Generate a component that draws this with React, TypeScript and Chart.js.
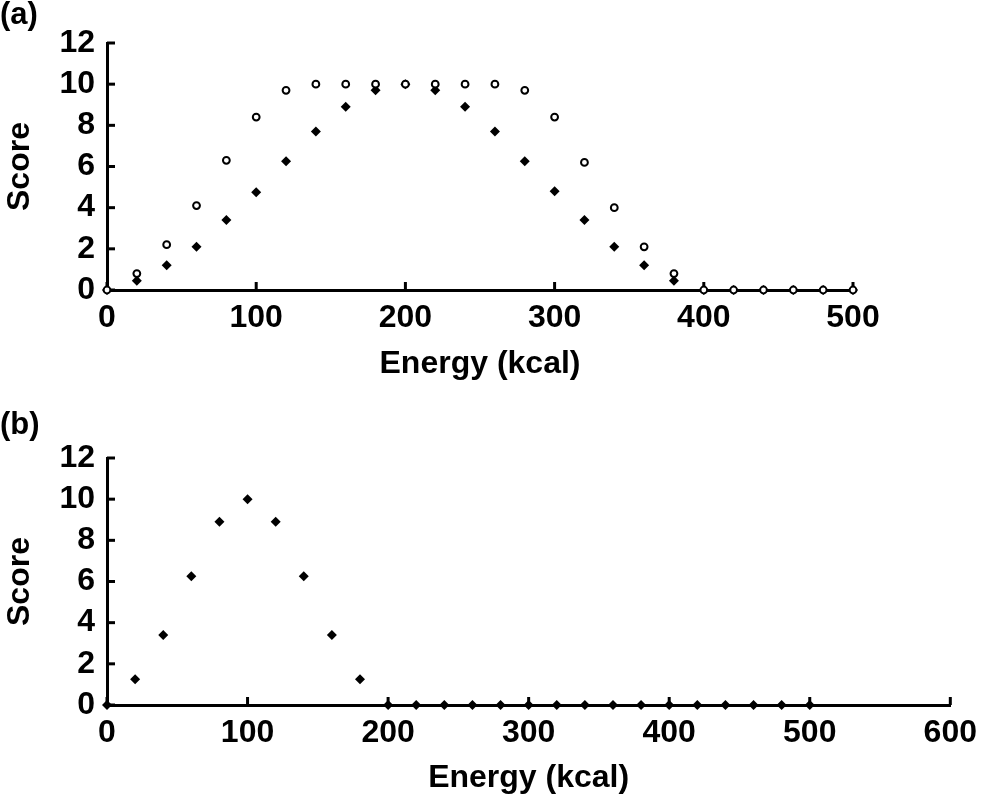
import React, { useEffect, useRef } from "react";
import { Chart, registerables } from "chart.js";

Chart.register(...registerables);

// ---- Data ----
const energyA = [0, 20, 40, 60, 80, 100, 120, 140, 160, 180, 200, 220, 240, 260, 280, 300, 320, 340, 360, 380, 400, 420, 440, 460, 480, 500];
const scoreOpenA = [0, 0.8, 2.2, 4.1, 6.3, 8.4, 9.7, 10, 10, 10, 10, 10, 10, 10, 9.7, 8.4, 6.2, 4.0, 2.1, 0.8, 0, 0, 0, 0, 0, 0];
const scoreFilledA = [0, 0.45, 1.2, 2.1, 3.4, 4.75, 6.25, 7.7, 8.9, 9.7, 10, 9.7, 8.9, 7.7, 6.25, 4.8, 3.4, 2.1, 1.2, 0.45, 0, 0, 0, 0, 0, 0];

const energyB = [0, 20, 40, 60, 80, 100, 120, 140, 160, 180, 200, 220, 240, 260, 280, 300, 320, 340, 360, 380, 400, 420, 440, 460, 480, 500];
const scoreB = [0, 1.25, 3.4, 6.25, 8.9, 10, 8.9, 6.25, 3.4, 1.25, 0, 0, 0, 0, 0, 0, 0, 0, 0, 0, 0, 0, 0, 0, 0, 0];

const yTicksMax = 12;
const yStep = 2;
const xMaxA = 500;
const xMaxB = 600;
const xStep = 100;

const FONT = "'Liberation Sans', Arial, Helvetica, sans-serif";
const FS = 32;

const innerTicks = {
  id: "innerTicks",
  beforeDatasetsDraw(chart: any) {
    const { ctx, chartArea, scales } = chart;
    const x = scales.x;
    const y = scales.y;
    ctx.save();
    ctx.strokeStyle = "#000";
    ctx.lineWidth = 3;
    ctx.lineCap = "butt";
    y.ticks.forEach((t: any) => {
      const py = y.getPixelForValue(t.value);
      ctx.beginPath();
      ctx.moveTo(chartArea.left, py);
      ctx.lineTo(chartArea.left + 8, py);
      ctx.stroke();
    });
    x.ticks.forEach((t: any) => {
      const px = x.getPixelForValue(t.value);
      ctx.beginPath();
      ctx.moveTo(px, chartArea.bottom);
      ctx.lineTo(px, chartArea.bottom - 8);
      ctx.stroke();
    });
    ctx.restore();
  },
};

type Series = { x: number[]; y: number[]; style: "open" | "filled" };

function Panel(props: {
  series: Series[];
  xMax: number;
  top: number;
  height: number;
  padTop: number;
  padRight: number;
  xScaleHeight: number;
  xTitlePad: number;
}) {
  const ref = useRef<HTMLCanvasElement | null>(null);
  useEffect(() => {
    if (!ref.current) return;
    const datasets = props.series.map((s) => ({
      data: s.x.map((xv, i) => ({ x: xv, y: s.y[i] })),
      showLine: false,
      clip: false as any,
      pointStyle: s.style === "open" ? "circle" : "rectRot",
      pointRadius: s.style === "open" ? 3.4 : 5,
      pointBorderWidth: s.style === "open" ? 2 : 0,
      pointBackgroundColor: s.style === "open" ? "#fff" : "#000",
      pointBorderColor: "#000",
      pointHoverRadius: 0,
    }));
    const chart = new Chart(ref.current, {
      type: "scatter",
      data: { datasets },
      plugins: [innerTicks],
      options: {
        animation: false,
        responsive: false,
        devicePixelRatio: 1,
        events: [],
        layout: { padding: { left: 0, top: props.padTop, right: props.padRight, bottom: 0 } },
        plugins: { legend: { display: false }, tooltip: { enabled: false } },
        scales: {
          x: {
            type: "linear",
            min: 0,
            max: props.xMax,
            afterFit: (scale: any) => {
              scale.height = props.xScaleHeight;
            },
            ticks: {
              stepSize: xStep,
              autoSkip: false,
              color: "#000",
              padding: 9,
              maxRotation: 0,
              font: { family: FONT, size: FS, weight: "bold" },
            },
            grid: { display: true, drawOnChartArea: false, drawTicks: false },
            border: { display: true, color: "#000", width: 3 },
            title: {
              display: true,
              text: "Energy (kcal)",
              color: "#000",
              padding: { top: 0, bottom: props.xTitlePad },
              font: { family: FONT, size: FS, weight: "bold", lineHeight: 1.2 },
            },
          },
          y: {
            type: "linear",
            min: 0,
            max: yTicksMax,
            afterFit: (scale: any) => {
              scale.width = 107;
            },
            ticks: {
              stepSize: yStep,
              autoSkip: false,
              color: "#000",
              padding: 12,
              font: { family: FONT, size: FS, weight: "bold" },
            },
            grid: { display: true, drawOnChartArea: false, drawTicks: false },
            border: { display: true, color: "#000", width: 3 },
            title: {
              display: true,
              text: "Score",
              color: "#000",
              padding: { top: 1, bottom: 0 },
              font: { family: FONT, size: FS, weight: "bold", lineHeight: 1.2 },
            },
          },
        },
      } as any,
    });
    return () => chart.destroy();
  }, []);
  return (
    <canvas
      ref={ref}
      width={986}
      height={props.height}
      style={{ position: "absolute", left: 0, top: props.top, width: 986, height: props.height }}
    />
  );
}

const labelStyle: React.CSSProperties = {
  position: "absolute",
  left: 0,
  fontFamily: FONT,
  fontWeight: "bold",
  fontSize: 31,
  lineHeight: "31px",
  color: "#000",
};

export default function App() {
  return (
    <div style={{ position: "absolute", left: 0, top: 0, width: 986, height: 800, background: "#fff", overflow: "hidden" }}>
      <Panel
        series={[
          { x: energyA, y: scoreOpenA, style: "open" },
          { x: energyA, y: scoreFilledA, style: "filled" },
        ]}
        xMax={xMaxA}
        top={0}
        height={400}
        padTop={43}
        padRight={133}
        xScaleHeight={110}
        xTitlePad={17}
      />
      <Panel
        series={[{ x: energyB, y: scoreB, style: "filled" }]}
        xMax={xMaxB}
        top={400}
        height={400}
        padTop={58}
        padRight={27}
        xScaleHeight={95}
        xTitlePad={3}
      />
      <div style={{ ...labelStyle, top: -2 }}>(a)</div>
      <div style={{ ...labelStyle, top: 408 }}>(b)</div>
    </div>
  );
}
